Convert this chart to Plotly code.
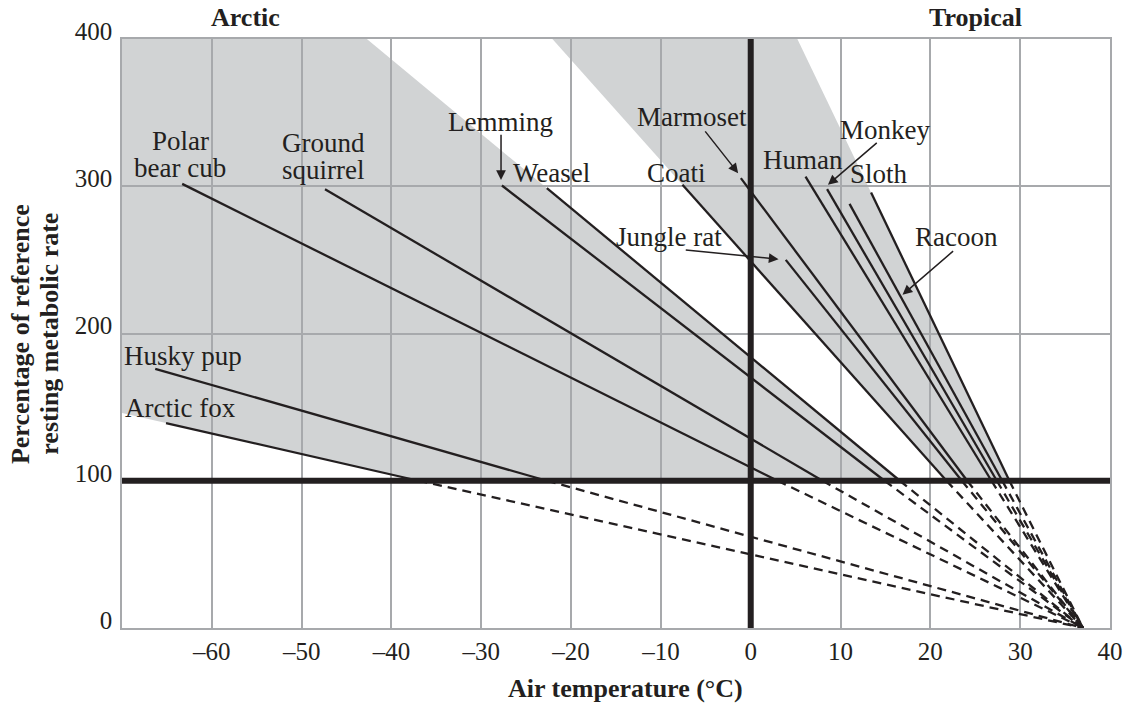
import plotly.graph_objects as go

# ---------------- data ----------------
species = ["Arctic fox", "Husky pup", "Polar bear cub", "Ground squirrel", "Lemming",
           "Weasel", "Coati", "Jungle rat", "Marmoset", "Human", "Monkey", "Sloth", "Racoon"]
start_temp = [-65.1, -66.3, -63.3, -47.4, -27.7, -22.7, -7.6, 3.9, -1.1, 6.1, 8.5, 11.0, 13.4]
start_rate = [139.2, 176.0, 301.6, 298.0, 300.5, 298.7, 301.0, 250.0, 305.5, 306.6, 298.0, 288.0, 295.7]
critical_temp = [-37.0, -22.7, 3.0, 8.0, 14.9, 16.6, 21.8, 23.5, 24.1, 26.8, 27.4, 28.0, 28.8]
body_temp = 37.0
reference_rate = 100.0

x_tick_vals = [-60, -50, -40, -30, -20, -10, 0, 10, 20, 30, 40]
x_tick_text = ["–60", "–50", "–40", "–30", "–20", "–10", "0", "10", "20", "30", "40"]
y_tick_vals = [0, 100, 200, 300, 400]
x_range = [-70, 40]
y_range = [0, 400]

INK = "#231f20"
GRID = "#a7a9ac"
FILL = "#d1d3d4"
FONT = "Liberation Serif"


def temp_on_line(i, rate):
    x0, y0, xc = start_temp[i], start_rate[i], critical_temp[i]
    return x0 + (rate - y0) * (xc - x0) / (reference_rate - y0)


def rate_on_line(i, temp):
    x0, y0, xc = start_temp[i], start_rate[i], critical_temp[i]
    return y0 + (temp - x0) * (reference_rate - y0) / (xc - x0)


fig = go.Figure()

# ---------------- shaded bands (below gridlines) ----------------
i_fox, i_weasel = species.index("Arctic fox"), species.index("Weasel")
i_coati, i_racoon = species.index("Coati"), species.index("Racoon")
band1 = [(x_range[0], rate_on_line(i_fox, x_range[0])), (x_range[0], y_range[1]),
         (temp_on_line(i_weasel, y_range[1]), y_range[1]),
         (critical_temp[i_weasel], reference_rate), (critical_temp[i_fox], reference_rate)]
band2 = [(temp_on_line(i_coati, y_range[1]), y_range[1]),
         (temp_on_line(i_racoon, y_range[1]), y_range[1]),
         (critical_temp[i_racoon], reference_rate), (critical_temp[i_coati], reference_rate)]
for band in (band1, band2):
    path = "M " + " L ".join(f"{x},{y}" for x, y in band) + " Z"
    fig.add_shape(type="path", path=path, xref="x", yref="y", fillcolor=FILL,
                  line=dict(width=0), layer="below")

# ---------------- species lines ----------------
for i, name in enumerate(species):
    fig.add_trace(go.Scatter(x=[start_temp[i], critical_temp[i]], y=[start_rate[i], reference_rate],
                             mode="lines", line=dict(color=INK, width=2.3), name=name,
                             showlegend=False, hoverinfo="skip"))
    fig.add_trace(go.Scatter(x=[critical_temp[i], body_temp], y=[reference_rate, 0],
                             mode="lines", line=dict(color=INK, width=2.3, dash="9px,6px"),
                             showlegend=False, hoverinfo="skip"))

# ---------------- thick reference lines ----------------
fig.add_trace(go.Scatter(x=x_range, y=[reference_rate, reference_rate], mode="lines",
                         line=dict(color=INK, width=6), showlegend=False, hoverinfo="skip",
                         cliponaxis=False))
fig.add_trace(go.Scatter(x=[0, 0], y=y_range, mode="lines",
                         line=dict(color=INK, width=6), showlegend=False, hoverinfo="skip",
                         cliponaxis=False))

# ---------------- labels ----------------
lab_font = dict(family=FONT, size=27, color=INK)
labels = [
    ("Polar", -63.5, 331.0), ("bear cub", -63.5, 312.5),
    ("Ground", -47.6, 329.5), ("squirrel", -47.6, 311.0),
    ("Lemming", -27.9, 343.9), ("Weasel", -22.2, 309.3), ("Coati", -8.3, 309.3),
    ("Marmoset", -6.5, 347.1), ("Jungle rat", -9.1, 265.6), ("Human", 5.8, 318.0),
    ("Monkey", 14.9, 338.3), ("Sloth", 14.3, 308.4), ("Racoon", 22.9, 265.8),
    ("Husky pup", -63.2, 184.4), ("Arctic fox", -63.5, 149.4),
]
for text, x, y in labels:
    fig.add_annotation(text=text, x=x, y=y, xref="x", yref="y", showarrow=False,
                       font=lab_font, xanchor="center", yanchor="middle")

arrows = [  # (tail x, tail y, head x, head y)
    (-27.8, 336.0, -27.8, 304.3),
    (-5.2, 338.3, -1.4, 308.9),
    (-7.4, 256.8, 3.1, 250.5),
    (14.2, 330.3, 8.6, 301.0),
    (22.7, 256.8, 16.9, 226.3),
]
for tx, ty, hx, hy in arrows:
    fig.add_annotation(text="", x=hx, y=hy, ax=tx, ay=ty, xref="x", yref="y",
                       axref="x", ayref="y", showarrow=True, arrowhead=2, arrowsize=1.3,
                       arrowwidth=1.5, arrowcolor=INK, standoff=0, startstandoff=0)

bold = dict(family=FONT, size=26, color=INK, weight="bold")
fig.add_annotation(text="<b>Arctic</b>", x=0.1251, y=1.0357, xref="paper", yref="paper",
                   showarrow=False, font=bold, xanchor="center", yanchor="middle")
fig.add_annotation(text="<b>Tropical</b>", x=0.8635, y=1.0357, xref="paper", yref="paper",
                   showarrow=False, font=bold, xanchor="center", yanchor="middle")
fig.add_annotation(text="<b>Air temperature (°C)</b>", x=0.51, y=-0.102, xref="paper", yref="paper",
                   showarrow=False, font=bold, xanchor="center", yanchor="middle")
fig.add_annotation(text="<b>Percentage of reference</b>", x=-0.102, y=0.4994, xref="paper",
                   yref="paper", showarrow=False, font=bold, textangle=-90,
                   xanchor="center", yanchor="middle")
fig.add_annotation(text="<b>resting metabolic rate</b>", x=-0.073, y=0.4994, xref="paper",
                   yref="paper", showarrow=False, font=bold, textangle=-90,
                   xanchor="center", yanchor="middle")

tick_font = dict(family=FONT, size=25, color=INK)
fig.update_xaxes(range=x_range, tickvals=x_tick_vals, ticktext=x_tick_text, showgrid=True,
                 gridcolor=GRID, gridwidth=1.5, zeroline=False, showline=True, linecolor=GRID,
                 linewidth=1.5, mirror=True, ticks="", tickfont=tick_font, ticklabelstandoff=0)
fig.update_yaxes(range=y_range, tickvals=y_tick_vals, showgrid=True, gridcolor=GRID,
                 gridwidth=1.5, zeroline=False, showline=True, linecolor=GRID, linewidth=1.5,
                 mirror=True, ticks="", tickfont=tick_font, ticklabelstandoff=3,
                 ticklabelshift=-8)
fig.update_layout(width=1135, height=706, margin=dict(l=122, r=18, t=39, b=78),
                  plot_bgcolor="white", paper_bgcolor="white", showlegend=False)

fig.write_html("out.html", config={"displayModeBar": False},
               post_script="document.body.style.margin='0';document.body.style.overflow='hidden';")
